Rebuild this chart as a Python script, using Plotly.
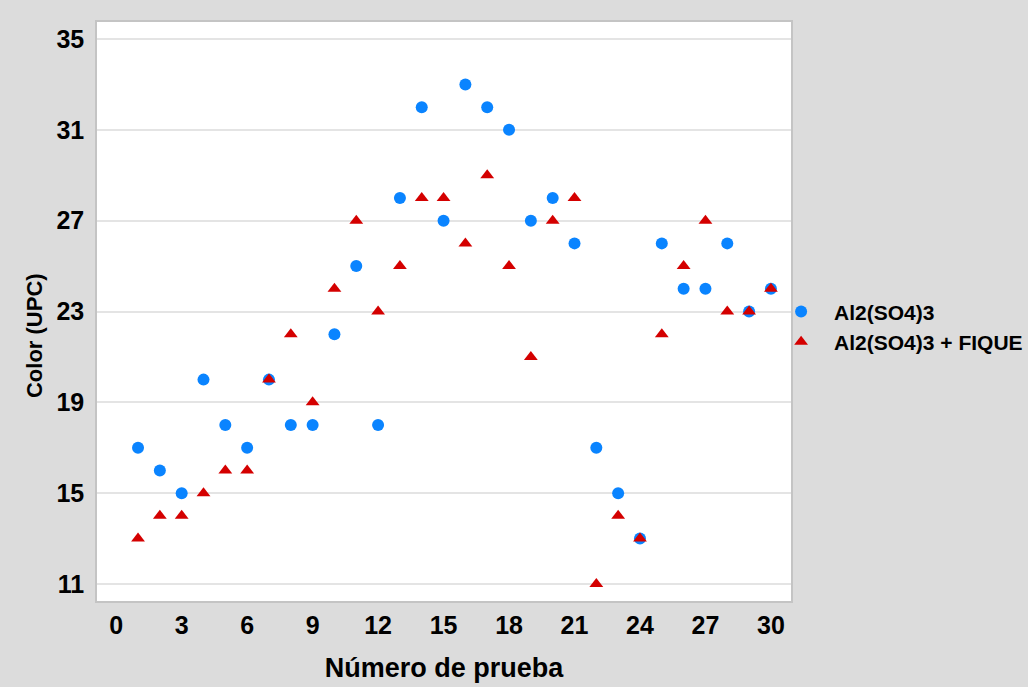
import plotly.graph_objects as go

prueba = list(range(1, 31))
al2so43 = [17, 16, 15, 20, 18, 17, 20, 18, 18, 22, 25, 18, 28, 32, 27,
           33, 32, 31, 27, 28, 26, 17, 15, 13, 26, 24, 24, 26, 23, 24]
al2so43_fique = [13, 14, 14, 15, 16, 16, 20, 22, 19, 24, 27, 23, 25, 28, 28,
                 26, 29, 25, 21, 27, 28, 11, 14, 13, 22, 25, 27, 23, 23, 24]
x_ticks = [0, 3, 6, 9, 12, 15, 18, 21, 24, 27, 30]
y_ticks = [11, 15, 19, 23, 27, 31, 35]

BLUE = "#0a84ff"
RED = "#d40000"
SANS = "Liberation Sans, Arial, sans-serif"

fig = go.Figure()
fig.add_trace(go.Scatter(x=prueba, y=al2so43, mode="markers", name="Al2(SO4)3",
                         marker=dict(symbol="circle", size=12, color=BLUE)))
fig.add_trace(go.Scatter(x=prueba, y=al2so43_fique, mode="markers", name="Al2(SO4)3 + FIQUE",
                         marker=dict(symbol="triangle-up", size=12, color=RED)))

fig.update_layout(
    width=1028, height=687,
    margin=dict(l=97, r=237, t=22, b=86, autoexpand=False),
    paper_bgcolor="#dcdcdc",
    plot_bgcolor="white",
    showlegend=True,
    legend=dict(x=0.967, xanchor="left", y=0.4735, yanchor="middle",
                bgcolor="rgba(0,0,0,0)",
                font=dict(family=SANS, size=21, color="black", weight="bold"),
                itemwidth=56, tracegroupgap=0),
    xaxis=dict(range=[-0.88, 30.92], tickmode="array", tickvals=x_ticks,
               showgrid=False, zeroline=False, showline=True, mirror=True,
               linecolor="#c4c4c4", linewidth=1.5, ticks="", automargin=False,
               ticklabelstandoff=1,
               tickfont=dict(family=SANS, size=25, color="black", weight="bold"),
               title=dict(text="Número de prueba", standoff=20,
                          font=dict(family=SANS, size=27, color="black", weight="bold"))),
    yaxis=dict(range=[10.25, 35.75], tickmode="array", tickvals=y_ticks,
               showgrid=True, gridcolor="#e4e4e4", gridwidth=1.5, zeroline=False,
               showline=True, mirror=True, linecolor="#c4c4c4", linewidth=1.5, ticks="",
               automargin=False, ticklabelstandoff=6,
               tickfont=dict(family=SANS, size=25, color="black", weight="bold")),
    annotations=[dict(text="Color (UPC)", textangle=-90, showarrow=False,
                      xref="paper", yref="paper", x=-0.0893, y=0.4577,
                      xanchor="center", yanchor="middle",
                      font=dict(family=SANS, size=22, color="black", weight="bold"))],
)

fig.write_html("out.html")
